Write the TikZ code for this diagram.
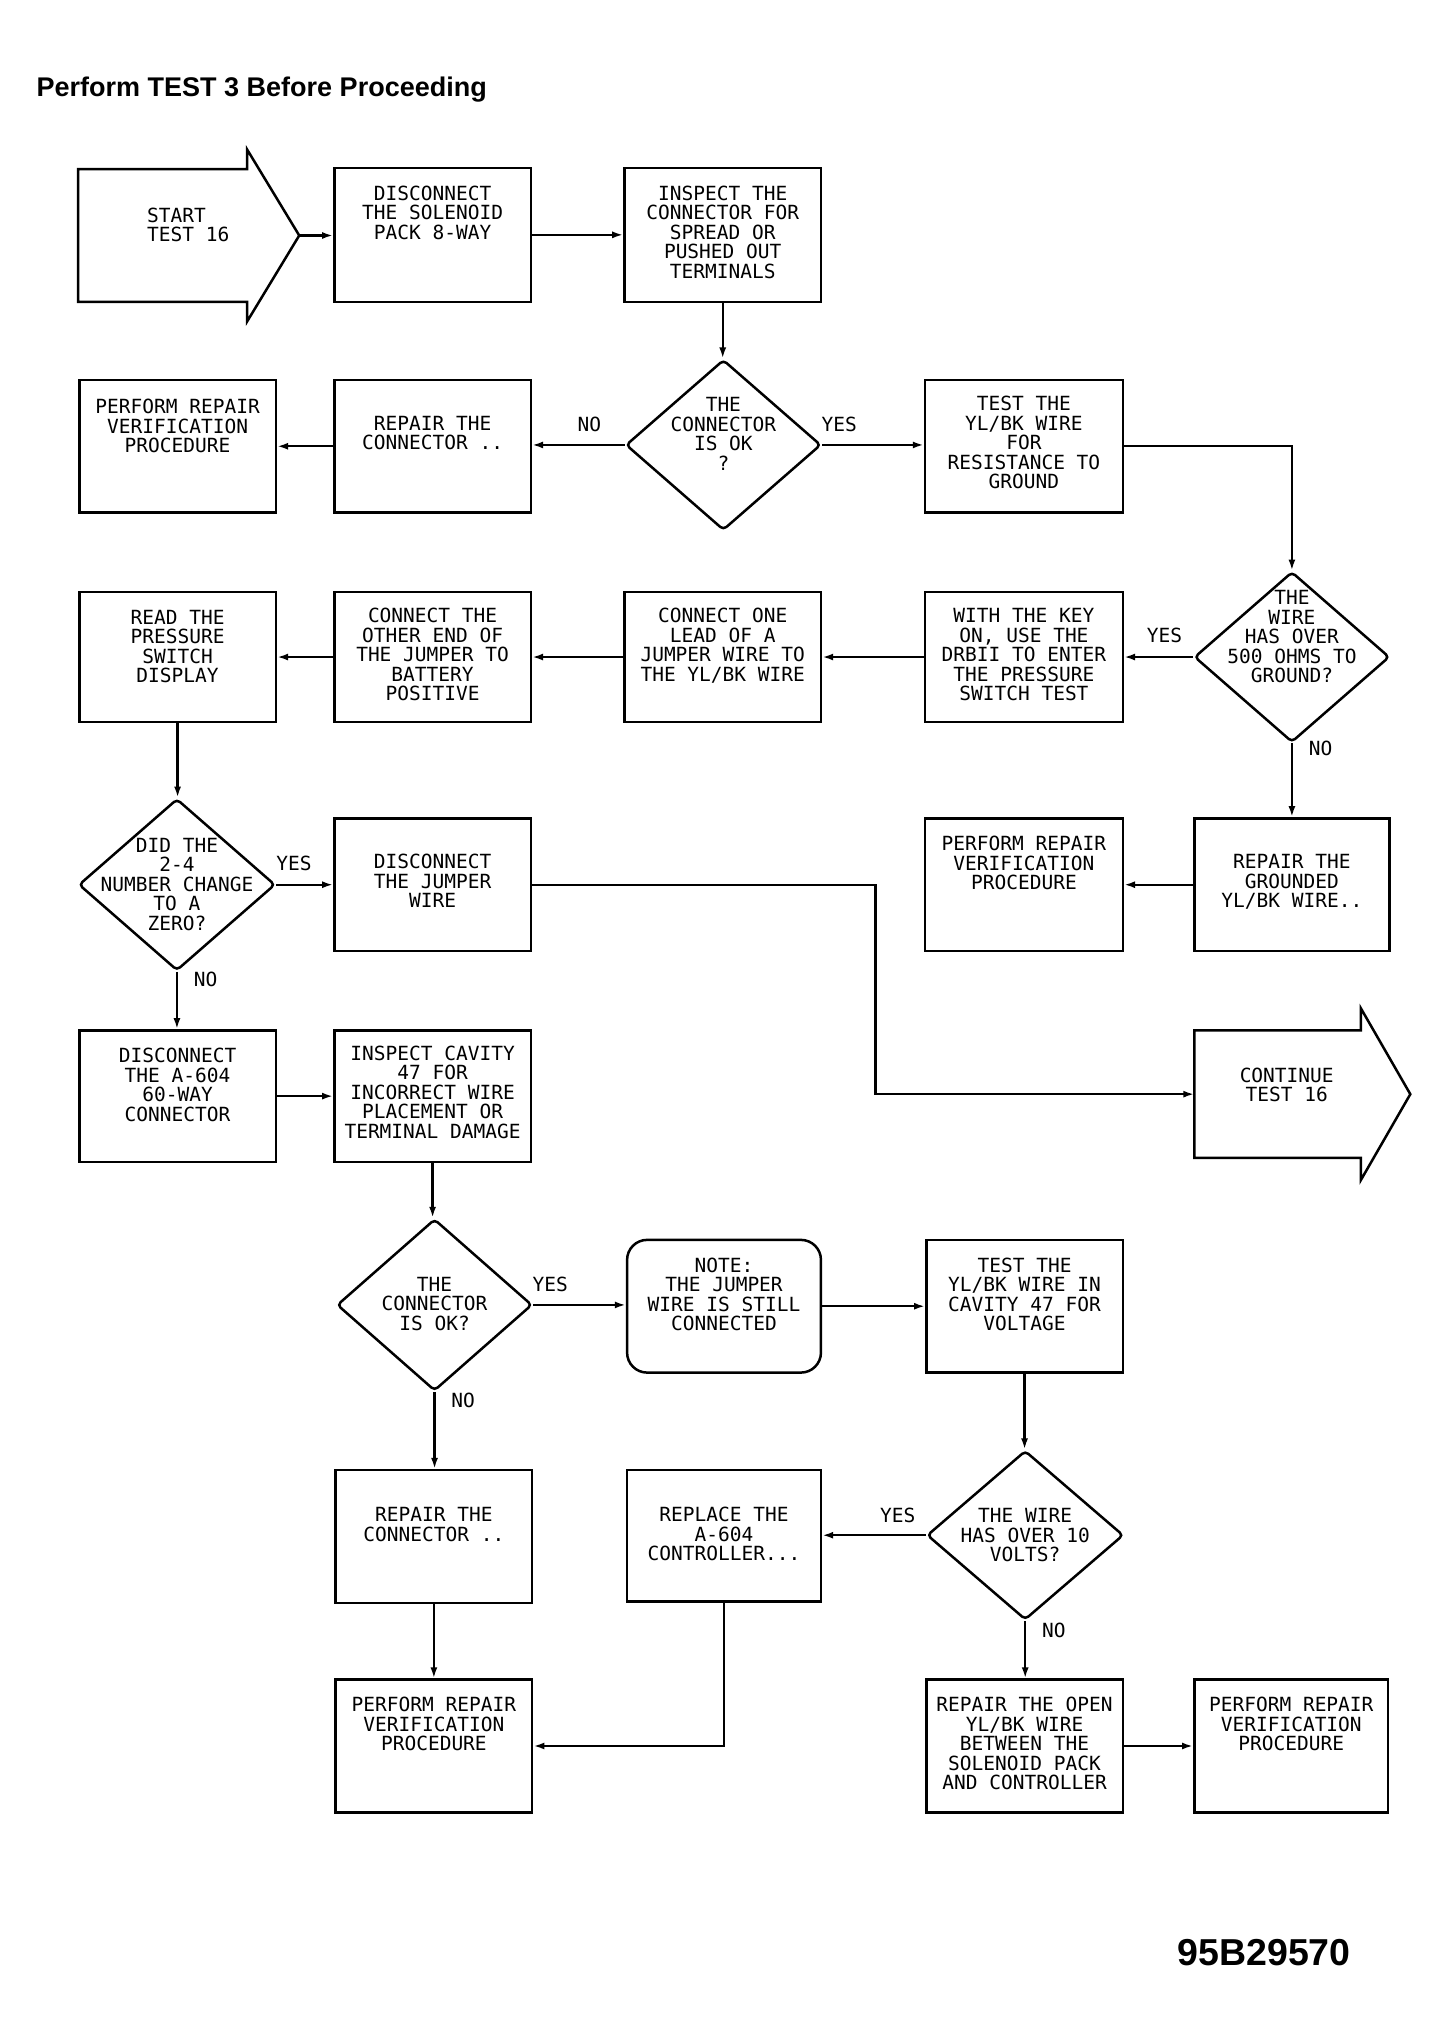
\documentclass[tikz,border=0pt]{standalone}
\usepackage{fontspec}
\newfontfamily\plotfont{DejaVu Sans Mono}
\newfontfamily\headfont{Liberation Sans}
\usetikzlibrary{shapes.geometric,arrows.meta,calc}
\def\uu{1.3007}
\tikzset{
  pbx/.style={draw=black, line width=2.5pt, rectangle, inner sep=0pt, fill=white},
  pnote/.style={rounded corners=20pt},
  pdi/.style={draw=black, line width=2.5pt, diamond, inner sep=0pt, rounded corners=4pt},
  ptx/.style={font=\plotfont\fontsize{19.5}{19.5}\selectfont, align=center, inner sep=0pt},
  conn/.style={line width=2.2pt, -{Latex[length=11pt,width=7pt]}},
  outl/.style={draw=black, line width=2.5pt, line join=miter}
}
\newcommand\pbox[8]{%
  \node[pbx, #1, minimum width={(#5-#3)*\uu}, minimum height={(#6-#4)*\uu}] (#2) at ({(#3+#5)/2},{(#4+#6)/2}) {};
  \node[ptx, anchor=north] (#2t) at ([yshift={-(#7)*\uu}]#2.north) {#8};}
\newcommand\pdia[7]{%
  \node[pdi, minimum width={#4*\uu}, minimum height={#5*\uu}] (#1) at (#2,#3) {};
  \node[ptx] (#1t) at (#2,#6) {#7};}
\begin{document}
\begin{tikzpicture}[x=1.3007pt, y=-1.3007pt]
\useasboundingbox (0,0) rectangle (1114,1568);
\fill[white] (0,0) rectangle (1114,1568);

% title and figure number
\node[anchor=base west, inner sep=0pt, font=\headfont\bfseries\fontsize{27}{30}\selectfont] (title) at (28,74) {Perform\ TEST\ 3\ Before\ Proceeding};
\node[anchor=base west, inner sep=0pt, font=\headfont\bfseries\fontsize{37.5}{40}\selectfont] (fignum) at (905,1511) {95B29570};

% start arrow
\draw[outl] (60,130) -- (190,130) -- (190,115) -- (230,181) -- (190,247) -- (190,232) -- (60,232) -- cycle;
\coordinate (starttip) at (230,181);
\node[ptx, align=left, anchor=north west] (start) at (113,159.5) {START\\TEST 16};

% continue arrow
\draw[outl] (918,792) -- (1046,792) -- (1046,775) -- (1084,841) -- (1046,907) -- (1046,890) -- (918,890) -- cycle;
\coordinate (contw) at (918,841);
\node[ptx] (cont) at (989,834) {CONTINUE\\TEST 16};

% boxes
\pbox{}{b1}{257}{129}{408}{232}{14.5}{DISCONNECT\\THE SOLENOID\\PACK 8-WAY}
\pbox{}{b2}{480}{129}{631}{232}{14.5}{INSPECT THE\\CONNECTOR FOR\\SPREAD OR\\PUSHED OUT\\TERMINALS}
\pbox{}{b3}{61}{292}{212}{394}{15.5}{PERFORM REPAIR\\VERIFICATION\\PROCEDURE}
\pbox{}{b4}{257}{292}{408}{394}{28.5}{REPAIR THE\\CONNECTOR ..}
\pbox{}{b5}{711}{292}{863}{394}{13.5}{TEST THE\\YL/BK WIRE\\FOR\\RESISTANCE TO\\GROUND}
\pbox{}{b6}{61}{455}{212}{555}{14.5}{READ THE\\PRESSURE\\SWITCH\\DISPLAY}
\pbox{}{b7}{257}{455}{408}{555}{13.5}{CONNECT THE\\OTHER END OF\\THE JUMPER TO\\BATTERY\\POSITIVE}
\pbox{}{b8}{480}{455}{631}{555}{13.5}{CONNECT ONE\\LEAD OF A\\JUMPER WIRE TO\\THE YL/BK WIRE}
\pbox{}{b9}{711}{455}{863}{555}{13.5}{WITH THE KEY\\ON, USE THE\\DRBII TO ENTER\\THE PRESSURE\\SWITCH TEST}
\pbox{}{b10}{257}{629}{408}{731}{28.5}{DISCONNECT\\THE JUMPER\\WIRE}
\pbox{}{b11}{711}{629}{863}{731}{14.5}{PERFORM REPAIR\\VERIFICATION\\PROCEDURE}
\pbox{}{b12}{918}{629}{1068}{731}{28.5}{REPAIR THE\\GROUNDED\\YL/BK WIRE..}
\pbox{}{b13}{61}{792}{212}{893}{14.5}{DISCONNECT\\THE A-604\\60-WAY\\CONNECTOR}
\pbox{}{b14}{257}{792}{408}{893}{12.5}{INSPECT CAVITY\\47 FOR\\INCORRECT WIRE\\PLACEMENT OR\\TERMINAL DAMAGE}
\pbox{pnote}{b15}{482}{953}{631}{1055}{14.5}{NOTE:\\THE JUMPER\\WIRE IS STILL\\CONNECTED}
\pbox{}{b16}{712}{953}{863}{1055}{14.5}{TEST THE\\YL/BK WIRE IN\\CAVITY 47 FOR\\VOLTAGE}
\pbox{}{b17}{258}{1130}{409}{1232}{29.5}{REPAIR THE\\CONNECTOR ..}
\pbox{}{b18}{482}{1130}{631}{1231}{29.5}{REPLACE THE\\A-604\\CONTROLLER...}
\pbox{}{b19}{258}{1291}{409}{1393}{14.5}{PERFORM REPAIR\\VERIFICATION\\PROCEDURE}
\pbox{}{b20}{712}{1291}{863}{1393}{14.5}{REPAIR THE OPEN\\YL/BK WIRE\\BETWEEN THE\\SOLENOID PACK\\AND CONTROLLER}
\pbox{}{b21}{918}{1291}{1067}{1393}{14.5}{PERFORM REPAIR\\VERIFICATION\\PROCEDURE}

% decisions
\pdia{d1}{556}{342}{150}{131}{333.5}{THE\\CONNECTOR\\IS OK\\?}
\pdia{d2}{993}{505}{150}{131}{489.5}{THE\\WIRE\\HAS OVER\\500 OHMS TO\\GROUND?}
\pdia{d3}{136}{680}{151}{132}{679.5}{DID THE\\2-4\\NUMBER CHANGE\\TO A\\ZERO?}
\pdia{d4}{334}{1003}{150}{132}{1002}{THE\\CONNECTOR\\IS OK?}
\pdia{d5}{788}{1180}{151}{130}{1180}{THE WIRE\\HAS OVER 10\\VOLTS?}

% branch labels
\node[ptx] (l1) at (453,326) {NO};
\node[ptx] (l2) at (645,326) {YES};
\node[ptx] (l3) at (895,488) {YES};
\node[ptx] (l4) at (1015,575) {NO};
\node[ptx] (l5) at (226,664) {YES};
\node[ptx] (l6) at (158,753) {NO};
\node[ptx] (l7) at (423,987) {YES};
\node[ptx] (l8) at (356,1076) {NO};
\node[ptx] (l9) at (690,1165) {YES};
\node[ptx] (l10) at (810,1253) {NO};

% connectors
\draw[conn] (starttip) -- (starttip -| b1.west);
\draw[conn] (b1.east) -- (b1.east -| b2.west);
\draw[conn] (b2.south) -- (b2.south |- d1.north);
\draw[conn] (d1.west) -- (d1.west -| b4.east);
\draw[conn] (b4.west) -- (b4.west -| b3.east);
\draw[conn] (d1.east) -- (d1.east -| b5.west);
\draw[conn] (b5.east) -| (d2.north);
\draw[conn] (d2.west) -- (d2.west -| b9.east);
\draw[conn] (b9.west) -- (b9.west -| b8.east);
\draw[conn] (b8.west) -- (b8.west -| b7.east);
\draw[conn] (b7.west) -- (b7.west -| b6.east);
\draw[conn] (b6.south) -- (b6.south |- d3.north);
\draw[conn] (d2.south) -- (d2.south |- b12.north);
\draw[conn] (b12.west) -- (b12.west -| b11.east);
\draw[conn] (d3.east) -- (d3.east -| b10.west);
\draw[conn] (b10.east) -- ++(264,0) |- (contw);
\draw[conn] (d3.south) -- (d3.south |- b13.north);
\draw[conn] (b13.east) -- (b13.east -| b14.west);
\draw[conn] (b14.south) -- (b14.south |- d4.north);
\draw[conn] (d4.east) -- (d4.east -| b15.west);
\draw[conn] (b15.east) -- (b15.east -| b16.west);
\draw[conn] (b16.south) -- (b16.south |- d5.north);
\draw[conn] (d4.south) -- (d4.south |- b17.north);
\draw[conn] (d5.west) -- (d5.west -| b18.east);
\draw[conn] (b17.south) -- (b17.south |- b19.north);
\draw[conn] (b18.south) |- (b19.east);
\draw[conn] (d5.south) -- (d5.south |- b20.north);
\draw[conn] (b20.east) -- (b20.east -| b21.west);
\end{tikzpicture}
\end{document}
